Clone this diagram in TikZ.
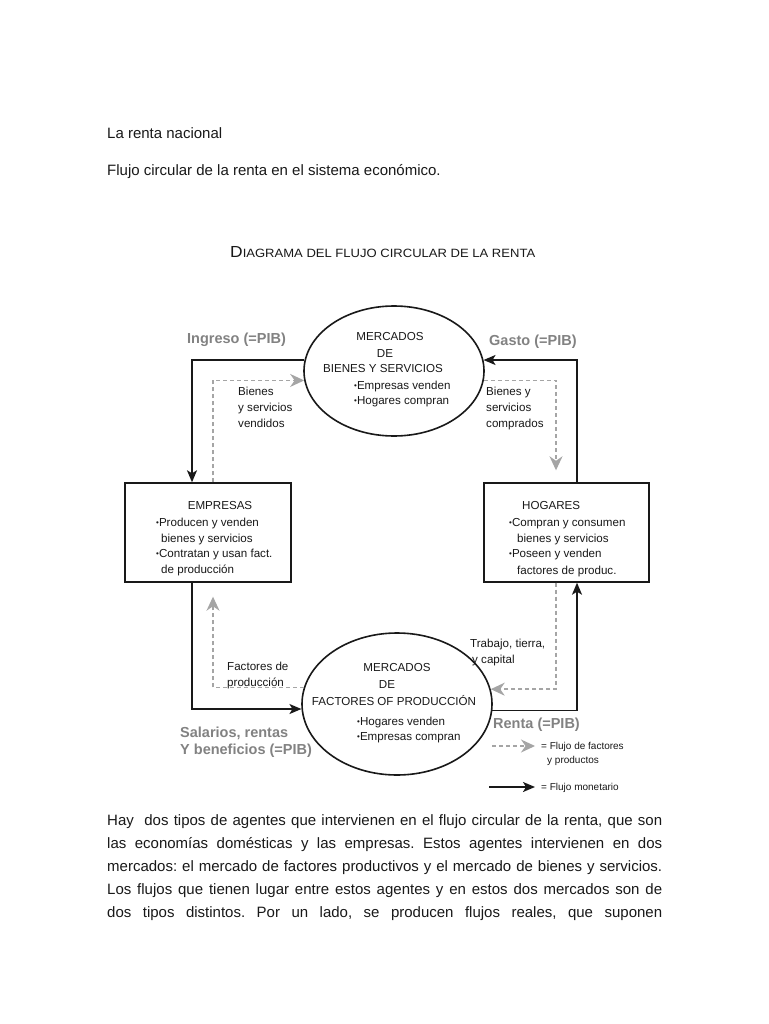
\documentclass[tikz,border=0pt]{standalone}
\usepackage{fontspec}
\usepackage{graphicx}
\setmainfont{Liberation Sans}
\frenchspacing
\usetikzlibrary{arrows.meta,shapes.geometric}
\definecolor{lblgray}{RGB}{130,130,130}
\definecolor{flowgray}{RGB}{165,165,165}
\definecolor{ink}{RGB}{25,25,25}
\newcommand{\bdot}{\raisebox{0.6pt}{\fontsize{8}{8}\selectfont •}}
\begin{document}
\begin{tikzpicture}[x=1pt,y=-1pt,
  txt/.style={inner sep=0pt, anchor=base west, text=ink, font=\fontsize{11.6}{13}\selectfont},
  ctxt/.style={txt, anchor=base},
  body/.style={inner sep=0pt, anchor=base west, text=ink, font=\fontsize{15}{17}\selectfont},
  glabel/.style={inner sep=0pt, anchor=base west, text=lblgray, font=\bfseries\fontsize{14.5}{16}\selectfont},
  legtxt/.style={inner sep=0pt, anchor=base west, text=ink, font=\fontsize{10}{11}\selectfont},
  market/.style={draw=ink, ellipse, line width=1.6pt, inner sep=0pt},
  agent/.style={draw=ink, rectangle, line width=1.4pt, inner sep=0pt},
  money/.style={draw=ink, line width=1.6pt, -{Stealth[length=12pt,width=10pt,inset=3pt]}},
  real/.style={draw=flowgray, line width=1.4pt, dash pattern=on 4pt off 3pt, -{Stealth[length=14pt,width=13pt,inset=4.5pt]}}
]
\fill[white] (0,0) rectangle (768,1024);
\useasboundingbox (0,0) rectangle (768,1024);

% headings
\node[body] (h1) at (107,139) {La renta nacional};
\node[body] (h2) at (107,176) {Flujo circular de la renta en el sistema económico.};
\node[inner sep=0pt, anchor=base west, text=ink] (title) at (230,257)
  {\resizebox{305pt}{\height}{\fontsize{16}{16}\selectfont D\fontsize{12}{12}\selectfont IAGRAMA DEL FLUJO CIRCULAR DE LA RENTA}};

% markets and agents
\node[market, minimum width=180pt, minimum height=130pt] (bs) at (394,371) {};
\node[market, minimum width=190pt, minimum height=142pt] (fp) at (397,704) {};
\node[agent, minimum width=166pt, minimum height=99pt] (emp) at (208,532.5) {};
\node[agent, minimum width=165pt, minimum height=99pt] (hog) at (566.5,532.5) {};

% texts in the goods market
\node[ctxt] (bs1) at (390,340) {MERCADOS};
\node[ctxt] (bs2) at (385,357) {DE};
\node[ctxt] (bs3) at (383,372) {BIENES Y SERVICIOS};
\node[txt] (bs4) at (354,389) {\bdot Empresas venden};
\node[txt] (bs5) at (354,404) {\bdot Hogares compran};

% texts in the factor market
\node[ctxt] (fp1) at (397,671) {MERCADOS};
\node[ctxt] (fp2) at (387,688) {DE};
\node[ctxt] (fp3) at (394,705) {FACTORES OF PRODUCCIÓN};
\node[txt] (fp4) at (357,725) {\bdot Hogares venden};
\node[txt] (fp5) at (357,740) {\bdot Empresas compran};

% texts in EMPRESAS
\node[ctxt] (e1) at (220,509) {EMPRESAS};
\node[txt] (e2) at (156,526) {\bdot Producen y venden};
\node[txt] (e3) at (161,542) {bienes y servicios};
\node[txt] (e4) at (156,557) {\bdot Contratan y usan fact.};
\node[txt] (e5) at (161,573) {de producción};

% texts in HOGARES
\node[txt] (o1) at (522,509) {HOGARES};
\node[txt] (o2) at (509,526) {\bdot Compran y consumen};
\node[txt] (o3) at (517,542) {bienes y servicios};
\node[txt] (o4) at (509,557) {\bdot Poseen y venden};
\node[txt] (o5) at (517,574) {factores de produc.};

% flow labels
\node[txt] (l1) at (238,395) {Bienes};
\node[txt] (l2) at (238,411) {y servicios};
\node[txt] (l3) at (238,427) {vendidos};
\node[txt] (r1) at (486,395) {Bienes y};
\node[txt] (r2) at (486,411) {servicios};
\node[txt] (r3) at (486,427) {comprados};
\node[txt] (f1) at (227,670) {Factores de};
\node[txt] (f2) at (227,686) {producción};
\node[txt] (k1) at (470,647) {Trabajo, tierra,};
\node[txt] (k2) at (472,663) {y capital};

\node[glabel] (g1) at (187,343) {Ingreso (=PIB)};
\node[glabel] (g2) at (489,345) {Gasto (=PIB)};
\node[glabel] (g3) at (493,728) {Renta (=PIB)};
\node[glabel] (g4) at (180,737) {Salarios, rentas};
\node[glabel] (g5) at (180,754) {Y beneficios (=PIB)};

% monetary flows
\draw[money] (bs.173.6) -| ([xshift=-16pt]emp.north);
\draw[money] ([xshift=10.5pt]hog.north) |- (bs.7.1);
\draw[money] ([xshift=-16pt]emp.south) |- (fp.183.6);
\draw[money] (fp.-4.2) -| ([xshift=10.5pt]hog.south);

% real flows
\draw[real] ([xshift=5pt]emp.north) |- (bs.186.4);
\draw[real, shorten >=12pt] (bs.-6.4) -| ([xshift=-10.5pt]hog.north);
\draw[real] ([xshift=-10.5pt]hog.south) |- (fp.9.8);
\draw[real, shorten >=14pt] (fp.170.2) -| ([xshift=5pt]emp.south);

% legend
\coordinate (lg1s) at (492,746);
\coordinate (lg1e) at (535,746);
\coordinate (lg2s) at (489,787);
\coordinate (lg2e) at (535,787);
\draw[real] (lg1s) -- (lg1e);
\draw[money] (lg2s) -- (lg2e);
\node[legtxt] (lt1) at (541,749) {= Flujo de factores};
\node[legtxt] (lt2) at (547,763) {y productos};
\node[legtxt] (lt3) at (541,790) {= Flujo monetario};

% paragraph
\node[body] (p1) at (107,825) {\makebox[555pt][s]{Hay~ dos tipos de agentes que intervienen en el flujo circular de la renta, que son}};
\node[body] (p2) at (107,848) {\makebox[555pt][s]{las economías domésticas y las empresas. Estos agentes intervienen en dos}};
\node[body] (p3) at (107,871) {\makebox[555pt][s]{mercados: el mercado de factores productivos y el mercado de bienes y servicios.}};
\node[body] (p4) at (107,894) {\makebox[555pt][s]{Los flujos que tienen lugar entre estos agentes y en estos dos mercados son de}};
\node[body] (p5) at (107,917) {\makebox[555pt][s]{dos tipos distintos. Por un lado, se producen flujos reales, que suponen}};
\end{tikzpicture}
\end{document}
